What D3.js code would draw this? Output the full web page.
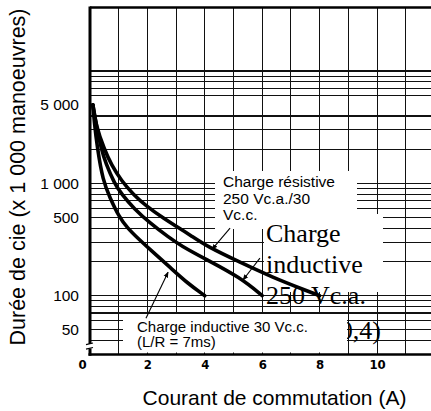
<!DOCTYPE html>
<html>
<head>
<meta charset="utf-8">
<script src="https://cdn.jsdelivr.net/npm/d3@7/dist/d3.min.js"></script>
<style>
  html, body { margin: 0; padding: 0; background: #fff; }
  svg { display: block; }
</style>
</head>
<body>
<svg id="chart" width="431" height="411"></svg>
<script>
// ---------- data ----------
const xTickValues = [0, 2, 4, 6, 8, 10];
const xTickLabels = ["0", "2", "4", "6", "8", "10"];
const yTickValues = [5000, 1000, 500, 100, 50];
const yTickLabels = ["5 000", "1 000", "500", "100", "50"];
const vGridValues = [1, 2, 3, 4, 5, 6, 7, 8, 9, 10, 11];
const hGridValues = [40, 50, 60, 70, 80, 90, 100,
                     200, 300, 400, 500, 600, 700, 800, 900, 1000,
                     2000, 3000, 4000, 6000, 7000, 8000, 9000, 10000];
const hGridThick = [10000, 4000, 70];

// Charge résistive 250 Vc.a./30 Vc.c.
const resistive = [[0.1,5000],[0.2,3300],[0.5,2000],[0.75,1450],[1.1,1050],[1.5,800],[1.95,630],
  [2.6,480],[3.0,415],[3.5,345],[4.1,272],[5.2,200],[6.35,146],[7.5,112],[8,100]];
// Charge inductive 250 Vc.a. (cos φ = 0,4)
const inductive250 = [[0.1,5000],[0.25,3000],[0.4,2000],[0.55,1500],[0.85,1000],[1.1,800],
  [1.52,600],[2.1,440],[2.75,330],[3.15,280],[4.05,210],[5.24,145],[6,100]];
// Charge inductive 30 Vc.c. (L/R = 7ms)
const inductive30 = [[0.1,5000],[0.15,3500],[0.25,2100],[0.45,1050],[0.7,740],[1.0,510],
  [1.3,400],[1.7,318],[2.2,243],[2.8,178],[3.4,129],[4,100]];

// leader lines (data units): [from, to]
const leaderResistive = [[4.88, 400], [4.25, 258]];
const leaderInd250 = [[5.92, 216], [5.33, 138]];
const leaderInd30 = [[1.95, 63], [2.72, 162]];

const resistiveText = ["Charge résistive", "250 Vc.a./30", "Vc.c."];
const ind250Text = ["Charge", "inductive", "250 Vc.a."];
const ind250Extra = "0,4)";
const ind30Text = ["Charge inductive 30 Vc.c.", "(L/R = 7ms)"];
const xTitle = "Courant de commutation (A)";
const yTitle = "Durée de cie (x 1 000 manoeuvres)";

// ---------- scales ----------
const svg = d3.select("#chart");
const x = d3.scaleLinear().domain([0, 11.88]).range([90, 431]);
const y = d3.scaleLog().domain([30, 37000]).range([354.5, 7]);
const SANS = "'Liberation Sans', Arial, Helvetica, sans-serif";
const SERIF = "'Liberation Serif', 'Times New Roman', serif";

// ---------- grid ----------
const grid = svg.append("g").attr("shape-rendering", "crispEdges");
grid.selectAll("line.v").data(vGridValues).join("line")
  .attr("x1", d => x(d)).attr("x2", d => x(d))
  .attr("y1", y(37000)).attr("y2", y(30))
  .attr("stroke", "#111").attr("stroke-width", 1);
grid.selectAll("line.h").data(hGridValues).join("line")
  .attr("x1", x(0)).attr("x2", x(11.88))
  .attr("y1", d => y(d)).attr("y2", d => y(d))
  .attr("stroke", "#111").attr("stroke-width", d => hGridThick.includes(d) ? 2 : 1);

// white label boxes
svg.append("rect").attr("x", 215).attr("y", 171).attr("width", 142).attr("height", 58).attr("fill", "#fff");
svg.append("rect").attr("x", 264).attr("y", 214).attr("width", 119).attr("height", 78).attr("fill", "#fff");

// ---------- curves ----------
const line = d3.line().x(d => x(d[0])).y(d => y(d[1])).curve(d3.curveBasis);
svg.selectAll("path.curve").data([resistive, inductive250, inductive30]).join("path")
  .attr("class", "curve")
  .attr("d", line)
  .attr("fill", "none").attr("stroke", "#000").attr("stroke-width", 3.6)
  .attr("stroke-linecap", "round").attr("stroke-linejoin", "round");

// serif label
const t250 = svg.append("text").attr("font-family", SERIF).attr("font-size", 26).attr("fill", "#000");
ind250Text.forEach((s, i) => t250.append("tspan").attr("x", 266).attr("y", 242 + i * 31).text(s));
svg.append("text").attr("font-family", SERIF).attr("font-size", 26).attr("text-anchor", "end")
  .attr("x", 381).attr("y", 339).text(ind250Extra);

// lower white box
svg.append("rect").attr("x", 123).attr("y", 314).attr("width", 224).attr("height", 38.5).attr("fill", "#fff");

// ---------- leaders ----------
const defs = svg.append("defs");
defs.append("marker").attr("id", "arr").attr("viewBox", "0 0 10 10")
  .attr("refX", 9).attr("refY", 5).attr("markerWidth", 6).attr("markerHeight", 6)
  .attr("orient", "auto").attr("markerUnits", "userSpaceOnUse")
  .append("path").attr("d", "M0,1 L10,5 L0,9 z").attr("fill", "#000");
svg.selectAll("line.lead").data([leaderResistive, leaderInd250, leaderInd30]).join("line")
  .attr("x1", d => x(d[0][0])).attr("y1", d => y(d[0][1]))
  .attr("x2", d => x(d[1][0])).attr("y2", d => y(d[1][1]))
  .attr("stroke", "#000").attr("stroke-width", 1.1).attr("marker-end", "url(#arr)");

// sans labels
const t30 = svg.append("text").attr("font-family", SANS).attr("font-size", 15).attr("fill", "#000");
ind30Text.forEach((s, i) => t30.append("tspan").attr("x", 137).attr("y", 331.5 + i * 15.5).text(s));
const tres = svg.append("text").attr("font-family", SANS).attr("font-size", 15.5).attr("fill", "#000");
resistiveText.forEach((s, i) => tres.append("tspan").attr("x", 223).attr("y", 187 + i * 16.5).text(s));

// ---------- frame ----------
svg.append("line").attr("x1", x(0)).attr("x2", 431).attr("y1", y(37000) + 0.5).attr("y2", y(37000) + 0.5)
  .attr("stroke", "#000").attr("stroke-width", 2.5);
svg.append("line").attr("x1", x(0)).attr("x2", x(0)).attr("y1", y(37000) - 0.5).attr("y2", y(30) + 1.3)
  .attr("stroke", "#000").attr("stroke-width", 3);
svg.append("line").attr("x1", x(0) - 1.5).attr("x2", 431).attr("y1", y(30)).attr("y2", y(30))
  .attr("stroke", "#000").attr("stroke-width", 2.6);
// axis break symbol
svg.append("rect").attr("x", x(0) - 3).attr("y", 344).attr("width", 6).attr("height", 4.5).attr("fill", "#fff");
[343.8, 348.3].forEach(yy => svg.append("line").attr("x1", x(0) - 4).attr("x2", x(0) + 3)
  .attr("y1", yy + 0.8).attr("y2", yy - 0.8).attr("stroke", "#000").attr("stroke-width", 1.2));

// ---------- axes (labels) ----------
const xAxis = svg.append("g").attr("transform", `translate(0,${y(30)})`)
  .call(d3.axisBottom(x).tickValues(xTickValues).tickSize(0).tickPadding(5)
    .tickFormat((d, i) => xTickLabels[i]));
xAxis.select(".domain").remove();
xAxis.selectAll("text")
  .attr("font-family", "'Liberation Sans Narrow', 'DejaVu Sans Condensed', Arial, sans-serif")
  .attr("font-size", 13).attr("font-weight", "bold").attr("fill", "#000")
  .attr("dx", d => d === 0 ? -8 : 0);

const yAxis = svg.append("g").attr("transform", `translate(${x(0)},0)`)
  .call(d3.axisLeft(y).tickValues(yTickValues).tickSize(0).tickPadding(11)
    .tickFormat((d, i) => yTickLabels[i]));
yAxis.select(".domain").remove();
yAxis.selectAll("text").attr("font-family", SANS).attr("font-size", 15.5).attr("fill", "#000");

svg.append("text").attr("x", 274.5).attr("y", 405).attr("text-anchor", "middle")
  .attr("font-family", SANS).attr("font-size", 21).text(xTitle);
svg.append("text").attr("transform", "translate(25,177) rotate(-90)").attr("text-anchor", "middle")
  .attr("font-family", SANS).attr("font-size", 21.5).text(yTitle);
</script>
</body>
</html>
